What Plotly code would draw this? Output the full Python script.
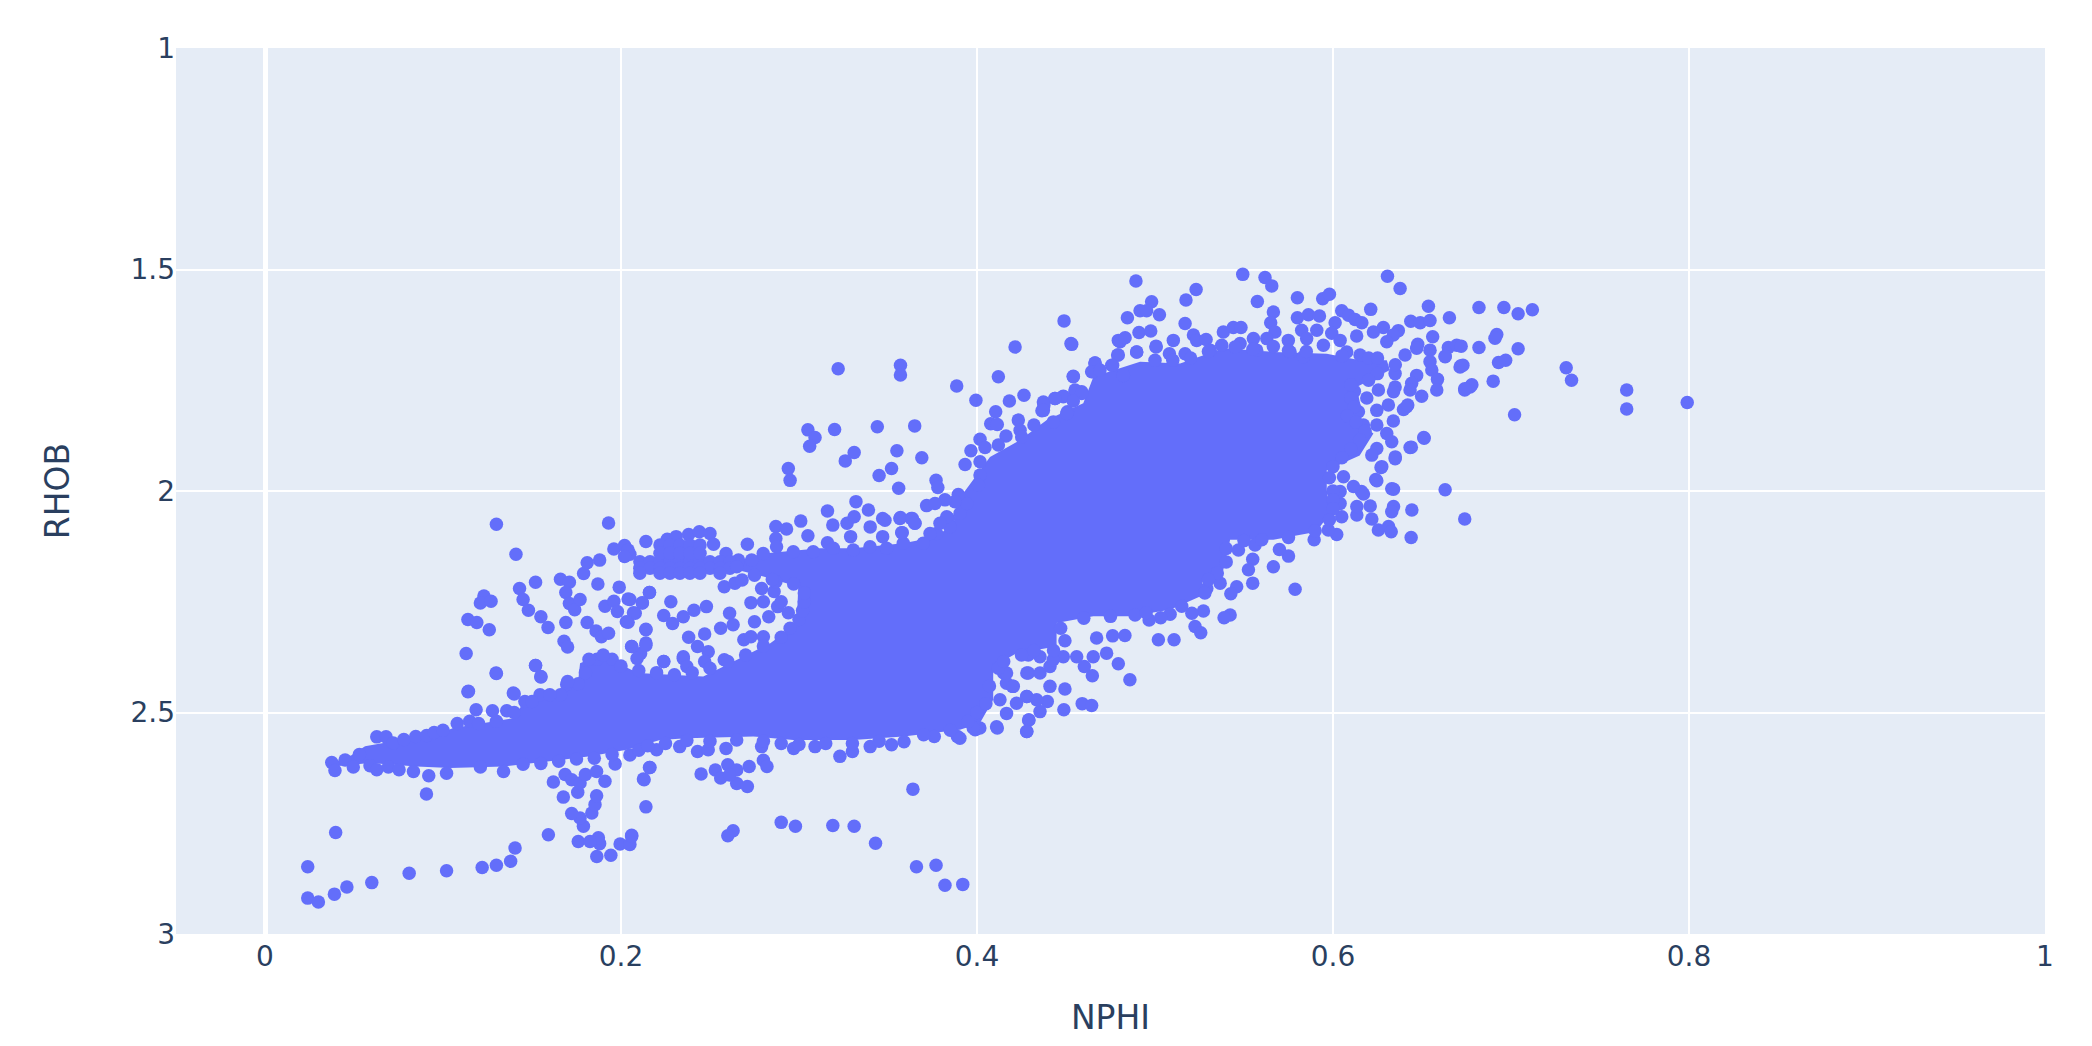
import plotly.graph_objects as go

# NPHI, RHOB pairs, grouped by area of the cloud
bottom_tail = [(.024,2.848),(.024,2.919),(.030,2.928),(.039,2.910),(.046,2.894),(.060,2.884),(.081,2.863),(.102,2.857),(.122,2.850),(.130,2.845),(.138,2.836),(.1405,2.806),(.1592,2.776),(.0397,2.771),(.0907,2.684),
    (.1864,2.825),(.1943,2.822),(.1995,2.797),(.205,2.798),(.206,2.777),(.188,2.796),(.1873,2.783),(.176,2.791),(.1826,2.791),(.1789,2.757),(.177,2.738),(.1723,2.728),(.1836,2.727),(.1854,2.708),(.1863,2.688),
    (.1676,2.691),(.1757,2.68),(.162,2.657),(.1686,2.64),(.1723,2.652),(.177,2.659),(.18,2.64),(.1863,2.633),(.191,2.655),(.2163,2.624),(.2126,2.65),(.214,2.713),(.205,2.596),(.1967,2.616),(.206,2.78),
    (.216,2.624),(.213,2.652),(.245,2.639),(.253,2.63),(.26,2.618),(.256,2.648),(.265,2.66),(.271,2.667),(.272,2.622),(.265,2.63),(.261,2.641),(.28,2.608),(.282,2.622),(.364,2.673),(.29,2.748),(.298,2.757),
    (.319,2.755),(.331,2.757),(.263,2.767),(.26,2.778),(.366,2.848),(.377,2.845),(.382,2.89),(.392,2.888),(.343,2.795)]

left_band = [(.0375,2.613),(.0393,2.631),(.045,2.607),(.0496,2.623),(.053,2.595),(.059,2.62),(.0628,2.555),(.068,2.555),(.0628,2.629),(.0693,2.623),(.0753,2.629),(.0834,2.633),(.092,2.643),(.102,2.637),(.121,2.623),(.134,2.633),
    (.072,2.569),(.078,2.561),(.0847,2.554),(.0908,2.552),(.108,2.525),(.115,2.52),(.1186,2.494),(.1278,2.496),(.1358,2.496),(.1143,2.452),(.1395,2.456),(.1298,2.411),(.152,2.394),(.155,2.419),(.1545,2.46),(.146,2.475),
    (.1695,2.437),(.176,2.435),(.166,2.46),(.1865,2.38),(.195,2.38),(.22,2.584),(.233,2.577),(.243,2.588),(.249,2.584),(.259,2.581),(.279,2.577),(.297,2.581),(.309,2.577),(.323,2.599),(.33,2.588),(.34,2.577),
    (.352,2.573),(.359,2.566),(.376,2.554),(.389,2.554),(.399,2.539),(.411,2.532),(.429,2.517),(.428,2.543),(.42,2.441),(.415,2.411),(.428,2.411),(.428,2.464)]

scatter_left = [(.130,2.075),(.193,2.072),(.141,2.143),(.152,2.206),(.143,2.22),(.145,2.245),(.148,2.269),(.123,2.237),(.121,2.253),(.127,2.249),(.114,2.29),(.119,2.297),(.126,2.313),(.113,2.367),(.130,2.412),(.152,2.394),
    (.155,2.42),(.114,2.453),(.140,2.458),(.155,2.284),(.159,2.308),(.169,2.297),(.166,2.199),(.171,2.206),(.169,2.229),(.171,2.254),(.174,2.268),(.177,2.245),(.168,2.339),(.170,2.352),(.179,2.186),(.181,2.162),(.188,2.156),
    (.196,2.131),(.202,2.123),(.205,2.143),(.187,2.21),(.199,2.217),(.191,2.26),(.196,2.249),(.198,2.272),(.205,2.245),(.204,2.296),(.208,2.276),(.212,2.253),(.216,2.229),(.214,2.313),(.181,2.297),(.186,2.316),(.189,2.329),
    (.193,2.321),(.214,2.343),(.206,2.351),(.211,2.367),(.224,2.385),(.235,2.374),(.214,2.114),(.226,2.109),(.231,2.103),(.238,2.098),(.244,2.092),(.25,2.096),(.252,2.12),(.204,2.133),(.202,2.148),(.259,2.141),(.266,2.156),
    (.258,2.216),(.264,2.208),(.268,2.201)]

arc_band = [(.2106,2.1595),(.2163,2.1595),(.2219,2.1595),(.2275,2.1595),(.2331,2.1595),(.2387,2.1595),(.2444,2.1595),(.25,2.1595),(.2556,2.1595),(.2612,2.1595),
    (.2106,2.1745),(.2163,2.1745),(.2219,2.1745),(.2275,2.1745),(.2331,2.1745),(.2387,2.1745),(.2444,2.1745),(.25,2.1745),(.2556,2.1745),(.2612,2.1745),
    (.2106,2.1858),(.2219,2.1858),(.2275,2.1858),(.2331,2.1858),(.2387,2.1858),(.2444,2.1858),(.2556,2.1858),
    (.2219,2.1219),(.2275,2.1219),(.2331,2.1219),(.2387,2.1219),(.2444,2.1219),(.2219,2.1407),(.2275,2.1407),(.2331,2.1407),(.2387,2.1407),(.2444,2.1407)]

arc_holes = [(.216,2.229),(.204,2.244),(.212,2.252),(.207,2.275),(.203,2.295),(.228,2.25),(.224,2.281),(.229,2.299),(.235,2.284),(.241,2.269),(.248,2.261),(.214,2.312),(.261,2.276),(.263,2.302),(.256,2.31),(.247,2.323),
    (.238,2.33),(.243,2.351),(.249,2.363),(.214,2.348),(.206,2.351),(.209,2.378),(.224,2.385),(.235,2.378),(.237,2.396),(.247,2.385),(.258,2.381),(.279,2.22),(.286,2.227),(.273,2.252),(.28,2.25),(.288,2.261),(.283,2.284),
    (.275,2.295),(.269,2.336),(.273,2.329),(.28,2.329),(.29,2.25),(.294,2.275),(.287,2.205)]

middle_top = [(.305,1.862),(.309,1.879),(.306,1.899),(.320,1.861),(.344,1.855),(.365,1.853),(.331,1.913),(.326,1.932),(.355,1.909),(.369,1.925),(.352,1.949),(.345,1.965),(.294,1.949),(.295,1.976),(.356,1.994),(.377,1.976),
    (.378,1.992),(.332,2.024),(.339,2.043),(.316,2.045),(.319,2.077),(.327,2.073),(.331,2.058),(.347,2.062),(.357,2.06),(.363,2.062),(.34,2.081),(.329,2.103),(.347,2.103),(.358,2.094),(.365,2.073),(.384,2.062),(.301,2.068),(.287,2.08),
    (.293,2.086),(.305,2.101),(.271,2.12),(.287,2.107),(.316,2.117),(.322,1.724),(.357,1.716),(.357,1.738),(.2874,2.126),(.2968,2.137),(.308,2.137),(.3193,2.129),(.3305,2.133),(.3399,2.126),(.3492,2.129),(.3586,2.118),(.3698,2.118),
    (.3773,2.096),(.3848,2.081),(.3905,2.05),(.3942,2.028),(.2799,2.141),(.2734,2.156),(.265,2.171)]

left_rim = [(.3886,1.763),(.3994,1.795),(.412,1.742),(.4214,1.675),(.4532,1.669),(.4541,1.741),(.4182,1.797),(.4264,1.784),(.4105,1.821),(.4077,1.848),(.4114,1.85),(.4232,1.84),(.432,1.851),(.4373,1.799),(.4365,1.819),(.4438,1.791),
    (.4485,1.787),(.4551,1.776),(.4588,1.776),(.4508,1.821),(.4429,1.844),(.4663,1.711),(.4654,1.731),(.4794,1.693),(.4757,1.716),(.4822,1.739),(.4804,1.663),(.4897,1.686),(.5006,1.675),(.4017,1.883),(.4163,1.876),(.4242,1.863),
    (.3966,1.909),(.4045,1.902),(.412,1.896),(.3933,1.94),(.4017,1.934),(.4017,1.964),(.4008,1.987),(.4251,1.878),(.3895,2.008),(.3717,2.033),(.3876,2.024),(.382,2.02),(.3764,2.028),(.3567,2.062),(.3483,2.066),(.3637,2.062),(.383,2.058),
    (.3577,2.094),(.3736,2.096),(.3652,2.073),(.3792,2.073)]

top_rim = [(.4489,1.616),(.4528,1.667),(.4893,1.526),(.4981,1.573),(.4916,1.593),(.4953,1.593),(.4845,1.609),(.5025,1.602),(.5174,1.569),(.5231,1.545),(.5169,1.622),(.5493,1.511),(.5618,1.518),(.5656,1.537),(.5575,1.572),(.58,1.564),
    (.5942,1.566),(.598,1.556),(.5665,1.596),(.565,1.62),(.5674,1.641),(.58,1.609),(.5862,1.602),(.5924,1.605),(.6049,1.593),(.6087,1.603),(.6124,1.613),(.6162,1.62),(.6012,1.62),(.6212,1.59),(.6306,1.515),(.6377,1.543),(.6536,1.583),
    (.6437,1.617),(.649,1.62),(.6545,1.615),(.6654,1.609),(.6283,1.631),(.6367,1.638),(.6339,1.648),(.6133,1.65),(.6227,1.641),(.6302,1.663),(.656,1.652),(.6476,1.669),(.647,1.678),(.6405,1.693),(.6545,1.682),(.663,1.697),(.6648,1.676),
    (.6695,1.671),(.6714,1.72),(.6545,1.708),(.6555,1.727),(.6587,1.748),(.6583,1.772),(.647,1.739),(.6442,1.757),(.6433,1.772),(.6498,1.786),(.6349,1.765),(.634,1.776),(.6255,1.772),(.6349,1.735),(.6414,1.81),(.6396,1.816),(.6311,1.806),
    (.6246,1.818),(.619,1.79),(.6339,1.842),(.6246,1.851),(.6171,1.851),(.6143,1.821),(.6512,1.881),(.6433,1.902),(.6349,1.927),(.633,1.889),(.6302,1.87),(.6246,1.904),(.6218,1.919),(.6274,1.945),
    (.4794,1.66),(.4832,1.654),(.491,1.642),(.4976,1.639),(.4897,1.686),(.5006,1.673),(.479,1.693),(.4663,1.711),(.4762,1.716),(.4644,1.731),(.4691,1.727),(.4822,1.739),(.4541,1.742),(.4551,1.772),(.4485,1.786),(.4438,1.791),(.4376,1.806),
    (.4373,1.818),(.4588,1.78),(.4541,1.797),(.4504,1.825),(.5103,1.66),(.5081,1.69),(.5216,1.648),(.5234,1.66),(.5287,1.658),(.5169,1.69),(.531,1.682),(.5384,1.641),(.544,1.631),(.5483,1.631),(.5553,1.656),(.5375,1.671),(.5478,1.667),
    (.5628,1.656),(.5749,1.66),(.5824,1.637),(.5909,1.637),(.5993,1.644),(.604,1.66),(.6077,1.686),(.5834,1.697),(.5852,1.656),(.5946,1.671),(.5571,1.682),(.5665,1.674),(.5759,1.686),(.6152,1.693)]

right_lobe = [(.682,1.676),(.672,1.673),(.663,1.696),(.672,1.717),(.677,1.765),(.674,1.772),(.682,1.586),(.696,1.586),(.704,1.6),(.712,1.591),(.692,1.647),(.691,1.655),(.704,1.679),(.697,1.705),(.693,1.71),(.673,1.716),(.731,1.722),(.734,1.75),
    (.765,1.772),(.765,1.815),(.799,1.8),(.702,1.828),(.69,1.752),(.678,1.76),(.674,1.769),(.663,1.997),(.674,2.063),(.642,1.806),(.651,1.879),(.644,1.901),(.635,1.923),(.627,1.947),(.624,1.974),(.616,2.001),(.633,1.995)]

low_rim = [(.6246,1.977),(.634,1.996),(.6443,2.043),(.634,2.035),(.633,2.047),(.6439,2.105),(.6209,2.034),(.6218,2.063),(.6255,2.088),(.6312,2.08),(.6327,2.092),(.6134,2.054),(.6134,2.035),(.6171,2.007),(.6115,1.99),(.6059,1.968),(.6021,2.098),
    (.5974,2.088),(.6049,2.058),(.604,2.028),(.604,2.001),(.5894,2.11),(.575,2.147),(.5699,2.132),(.5665,2.171),(.5787,2.222),(.5549,2.154),(.5525,2.178),(.5549,2.208),(.5459,2.216),(.5426,2.232),(.5469,2.133),(.5562,2.122),(.5422,2.28),
    (.5388,2.286),(.5272,2.271),(.5225,2.306),(.5257,2.32),(.5107,2.336),(.5019,2.336),(.5207,2.276),(.5085,2.278),(.5032,2.286),(.4967,2.291),(.4888,2.28),(.5366,2.208),(.5291,2.22),(.4831,2.326),(.4762,2.327),(.4672,2.332),(.4494,2.338),
    (.4728,2.366),(.4653,2.374),(.456,2.374),(.4485,2.374),(.4794,2.39),(.4859,2.426),(.4648,2.417),(.4603,2.396),(.4494,2.447),(.4488,2.494),(.4591,2.48),(.4644,2.484),(.441,2.441),(.4395,2.475),(.4354,2.498),(.4292,2.517),(.4279,2.543),
    (.4114,2.535),(.4166,2.502),(.4016,2.535),(.3979,2.535),(.3904,2.558),(.4279,2.464),(.4166,2.434),(.4204,2.441),(.4166,2.411),(.4288,2.411),(.4354,2.411),(.441,2.396),(.4288,2.37),(.4354,2.374),(.4428,2.381),(.4335,2.471),(.4222,2.479),(.4129,2.471)]

# points sitting right on the edge of the solid part
core_rim = [(.145,2.617),(.155,2.615),(.165,2.61),(.175,2.605),(.185,2.603),(.195,2.595),(.21,2.585),(.215,2.575),(.225,2.57),(.237,2.563),(.25,2.565),(.265,2.562),(.28,2.565),(.29,2.57),(.30,2.572),(.315,2.57),(.33,2.57),(.345,2.565),(.37,2.55),
    (.385,2.54),(.395,2.52),(.40,2.50),(.405,2.48),(.407,2.44),(.412,2.40),(.095,2.545),(.10,2.54),(.12,2.525),(.13,2.52),(.14,2.5),(.15,2.475),(.16,2.46),(.17,2.43),(.18,2.41),(.182,2.38),(.19,2.37),(.2,2.395),(.21,2.405),(.22,2.41),(.23,2.415),
    (.24,2.41),(.25,2.40),(.26,2.385),(.27,2.37),(.28,2.35),(.29,2.33),(.295,2.31),(.30,2.29),(.302,2.27),(.303,2.25),(.303,2.23),(.297,2.21),(.285,2.2),(.275,2.19),(.447,2.31),(.443,2.36),(.432,2.36),(.425,2.37),(.415,2.385),
    (.612,1.775),(.61,1.79),(.612,1.81),(.608,1.83),(.613,1.845),(.618,1.865),(.615,1.885),(.61,1.905),(.605,1.925),(.6,1.945),(.598,1.97),(.6,2.0),(.6,2.02),(.6,2.04),(.598,2.065),(.59,2.09),(.575,2.105),(.56,2.11),(.55,2.112),(.54,2.13),(.54,2.16),
    (.535,2.185),(.53,2.2),(.528,2.23),(.515,2.26),(.495,2.275),(.475,2.283),(.46,2.287),(.5,1.705),(.51,1.705),(.52,1.7),(.53,1.685),(.545,1.675),(.555,1.68),(.575,1.683),(.585,1.685),(.605,1.695),(.62,1.7),(.625,1.7),(.635,1.715),(.625,1.735),(.62,1.75),(.61,1.76)]

# outline of the solid part, where single points can't be told apart
core_x = [.0365,.046,.0562,.0665,.0908,.1058,.1395,.145,.162,.1676,.176,.177,.185,.196,.2097,.2462,.2556,.2837,.2987,.2996,.28,.265,.267,.28,.3118,.3305,.3586,.3773,.3867,.3923,.4073,.4242,.4392,.4597,.4654,.4916,.5141,.5384,.5665,.5965,.6152,.6302,.632,.6133,.6152,.6077,.6227,.615,.5965,.5965,.5984,.5928,.5871,.5665,.5422,.5384,.5272,.5253,.5085,.486,.4653,.4447,.4447,.4222,.4091,.4091,.4016,.3904,.3586,.3305,.2968,.2743,.2369,.2219,.2032,.1826,.1658,.134,.104,.0852,.059,.0384]
core_y = [2.614,2.603,2.576,2.569,2.558,2.535,2.513,2.479,2.464,2.441,2.426,2.389,2.375,2.385,2.411,2.419,2.40,2.344,2.299,2.216,2.193,2.178,2.156,2.141,2.129,2.129,2.118,2.103,2.073,2.005,1.923,1.885,1.84,1.802,1.742,1.708,1.712,1.678,1.686,1.69,1.705,1.705,1.727,1.765,1.802,1.825,1.87,1.92,1.953,1.998,2.05,2.08,2.095,2.11,2.11,2.178,2.193,2.238,2.268,2.283,2.283,2.298,2.351,2.366,2.396,2.471,2.524,2.539,2.554,2.562,2.562,2.554,2.558,2.562,2.584,2.599,2.607,2.622,2.625,2.622,2.614,2.622]

x_ticks = [0, 0.2, 0.4, 0.6, 0.8, 1]
y_ticks = [1, 1.5, 2, 2.5, 3]

points = bottom_tail + left_band + scatter_left + arc_band + arc_holes + middle_top + left_rim + top_rim + right_lobe + low_rim + core_rim
nphi = [p[0] for p in points]
rhob = [p[1] for p in points]

fig = go.Figure()
fig.add_trace(go.Scatter(x=core_x, y=core_y, mode='lines', fill='toself', fillcolor='#636efa',
                         line=dict(width=0), hoverinfo='skip', showlegend=False))
fig.add_trace(go.Scatter(x=nphi, y=rhob, mode='markers', marker=dict(color='#636efa', size=13.5), showlegend=False))

fig.update_layout(template='plotly', width=2092, height=1046, margin=dict(l=176, r=47, t=48, b=112),
                  font=dict(family='DejaVu Sans', color='#2a3f5f'), plot_bgcolor='#e5ecf6', paper_bgcolor='white')
fig.update_xaxes(title=dict(text='NPHI', font=dict(size=33), standoff=33), range=[-0.05, 1], tickvals=x_ticks, ticklabelstandoff=3,
                 tickfont=dict(size=28), gridcolor='white', gridwidth=2.3, zerolinecolor='white', zerolinewidth=4.6)
fig.update_yaxes(title=dict(text='RHOB', font=dict(size=33), standoff=50), range=[3, 1], tickvals=y_ticks,
                 tickfont=dict(size=28), gridcolor='white', gridwidth=2.3, zeroline=False)

fig.write_html("out.html", config={'displayModeBar': False},
               post_script="document.body.style.margin='0';document.body.style.overflow='hidden';")
